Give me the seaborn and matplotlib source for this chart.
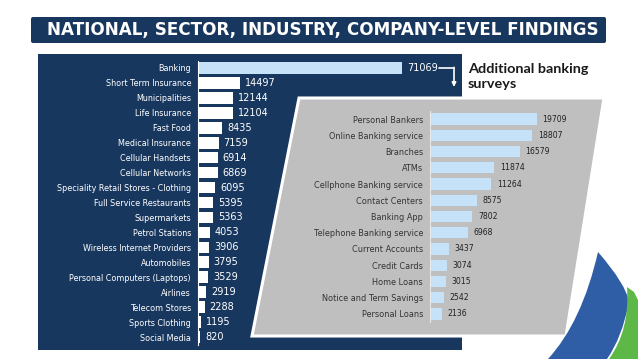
import matplotlib
matplotlib.use("Agg")
import matplotlib.pyplot as plt
import seaborn as sns
import pandas as pd
from matplotlib.patches import Polygon, Rectangle, FancyBboxPatch, PathPatch
from matplotlib.path import Path

# ---- data ----
sectors = ["Banking", "Short Term Insurance", "Municipalities", "Life Insurance",
           "Fast Food", "Medical Insurance", "Cellular Handsets", "Cellular Networks",
           "Speciality Retail Stores - Clothing", "Full Service Restaurants",
           "Supermarkets", "Petrol Stations", "Wireless Internet Providers",
           "Automobiles", "Personal Computers (Laptops)", "Airlines",
           "Telecom Stores", "Sports Clothing", "Social Media"]
sector_counts = [71069, 14497, 12144, 12104, 8435, 7159, 6914, 6869, 6095, 5395,
                 5363, 4053, 3906, 3795, 3529, 2919, 2288, 1195, 820]

bank_topics = ["Personal Bankers", "Online Banking service", "Branches", "ATMs",
               "Cellphone Banking service", "Contact Centers", "Banking App",
               "Telephone Banking service", "Current Accounts", "Credit Cards",
               "Home Loans", "Notice and Term Savings", "Personal Loans"]
bank_counts = [19709, 18807, 16579, 11874, 11264, 8575, 7802, 6968, 3437, 3074,
               3015, 2542, 2136]

title = "NATIONAL, SECTOR, INDUSTRY, COMPANY-LEVEL FINDINGS"
callout = "Additional banking\nsurveys"

NAVY = "#18375E"
GREY = "#BFBFBF"
LIGHT = "#C6E2F9"
W, H = 638, 359

sns.set_theme(style="white")
plt.rcParams["font.family"] = ["DejaVu Sans"]


def rect(x0, y0, x1, y1):
    # pixel box (top-left origin) -> figure fraction rect
    return [x0 / W, 1 - y1 / H, (x1 - x0) / W, (y1 - y0) / H]


fig = plt.figure(figsize=(W / 100, H / 100), dpi=100)
fig.patch.set_facecolor("white")

# background layer in pixel coordinates
bg = fig.add_axes([0, 0, 1, 1], zorder=0)
bg.set_xlim(0, W)
bg.set_ylim(H, 0)
bg.axis("off")
bg.add_patch(FancyBboxPatch((31, 17), 575, 26, boxstyle="round,pad=0,rounding_size=2",
                            fc=NAVY, ec="none"))
bg.text(47, 30.5, title, color="white", fontsize=12.1, fontweight="bold",
        va="center", ha="left")
bg.add_patch(Rectangle((38, 54), 424, 296, fc=NAVY, ec="none"))
bg.text(468, 76.5, callout, color="#1a1a1a", fontsize=10.4, fontweight="bold",
        family=["Lato", "DejaVu Sans"], va="center", ha="left", linespacing=1.3)
# connector arrow from Banking value to callout
bg.plot([439, 454], [68, 68], color="white", lw=1.2)
bg.annotate("", xy=(454, 87), xytext=(454, 67.4),
            arrowprops=dict(arrowstyle="-|>", color="white", lw=1.2,
                            mutation_scale=6, shrinkA=0, shrinkB=0))

# main chart
df_main = pd.DataFrame({"sector": sectors, "count": sector_counts})
ax = fig.add_axes(rect(198, 60.5, 456.3, 344.5), zorder=1)
ax.patch.set_alpha(0)
pal = {s: (LIGHT if i == 0 else "white") for i, s in enumerate(sectors)}
sns.barplot(data=df_main, y="sector", x="count", hue="sector", palette=pal,
            orient="h", width=0.78, legend=False, ax=ax, saturation=1,
            linewidth=0, edgecolor="none")
ax.set_xlim(0, 90000)
ax.set_ylim(len(sectors) - 0.5, -0.5)
ax.set_xlabel("")
ax.set_ylabel("")
ax.set_xticks([])
for s in ["top", "right", "bottom"]:
    ax.spines[s].set_visible(False)
ax.spines["left"].set_color("white")
ax.spines["left"].set_linewidth(0.8)
ax.tick_params(axis="y", length=0, pad=5, labelsize=5.75, labelcolor="white")
for c in ax.containers:
    ax.bar_label(c, fmt="%d", padding=3.5, color="white", fontsize=7)

# grey panel overlay
ov = fig.add_axes([0, 0, 1, 1], zorder=2)
ov.set_xlim(0, W)
ov.set_ylim(H, 0)
ov.axis("off")
ov.patch.set_alpha(0)
ov.add_patch(Polygon([(299, 98), (604, 98), (566, 336), (252, 336)], closed=True,
                     fc=GREY, ec="white", lw=2.2))
# logo swooshes
blue = Path([(548, 359), (582, 322), (598, 252), (626, 284), (629, 302),
             (622, 338), (607, 359), (548, 359)],
            [Path.MOVETO, Path.CURVE3, Path.CURVE3, Path.CURVE3, Path.CURVE3,
             Path.CURVE3, Path.CURVE3, Path.CLOSEPOLY])
ov.add_patch(PathPatch(blue, fc="#2F5DA6", ec="none"))
green = Path([(609, 359), (630, 330), (627, 287), (634, 292), (638, 300),
              (638, 359), (609, 359)],
             [Path.MOVETO, Path.CURVE3, Path.CURVE3, Path.LINETO, Path.LINETO,
              Path.LINETO, Path.CLOSEPOLY])
ov.add_patch(PathPatch(green, fc="#5DB848", ec="none"))

# inner banking chart
df_bank = pd.DataFrame({"topic": bank_topics, "count": bank_counts})
ax2 = fig.add_axes(rect(430, 110.9, 565.75, 322.1), zorder=3)
ax2.patch.set_alpha(0)
sns.barplot(data=df_bank, y="topic", x="count", color=LIGHT, orient="h",
            width=0.68, ax=ax2, saturation=1, linewidth=0, edgecolor="none")
ax2.set_xlim(0, 25000)
ax2.set_ylim(len(bank_topics) - 0.5, -0.5)
ax2.set_xlabel("")
ax2.set_ylabel("")
ax2.set_xticks([])
for s in ["top", "right", "bottom"]:
    ax2.spines[s].set_visible(False)
ax2.spines["left"].set_color("#e8e8e8")
ax2.spines["left"].set_linewidth(0.8)
ax2.tick_params(axis="y", length=0, pad=5, labelsize=5.85, labelcolor="#333333")
for c in ax2.containers:
    ax2.bar_label(c, fmt="%d", padding=4, color="#222222", fontsize=5.6)

fig.savefig("out.png", dpi=100)
